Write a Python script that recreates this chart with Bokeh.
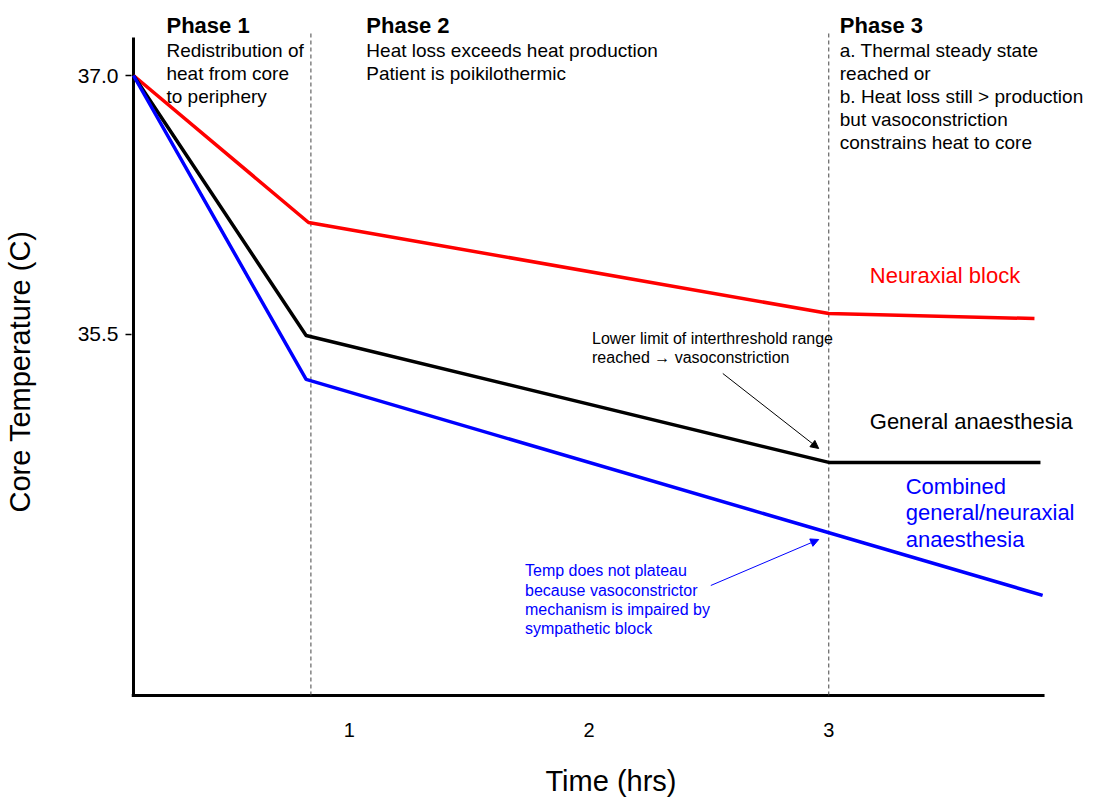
from bokeh.plotting import figure
from bokeh.models import Range1d, FixedTicker, PrintfTickFormatter, Label, Arrow, NormalHead
from bokeh.embed import file_html
from bokeh.resources import INLINE

FONT = "Liberation Sans"

# ---- data ----
time_neuraxial = [0.1, 0.83, 3.0, 3.858]
temp_neuraxial = [37.0, 36.148, 35.62, 35.591]
time_general = [0.1, 0.82, 3.0, 3.883]
temp_general = [37.0, 35.493, 34.757, 34.757]
time_combined = [0.1, 0.82, 3.892]
temp_combined = [37.0, 35.238, 33.986]
phase_bounds = [0.84, 3.0]
x_ticks = [1, 2, 3]
y_ticks = [35.5, 37.0]

# extents of the drawn axis lines
T0, T1 = 0.1, 3.9
Y0, Y1 = 33.4058, 37.2203
XR = (0.09167, 4.0917)
YR = (33.1333, 37.4348)

p = figure(width=1090, height=800, output_backend="svg", toolbar_location=None,
           x_range=Range1d(*XR), y_range=Range1d(*YR),
           min_border_left=130, min_border_right=0, min_border_top=0, min_border_bottom=58)
p.outline_line_color = None
p.xgrid.visible = False
p.ygrid.visible = False
p.background_fill_color = "white"
p.border_fill_color = "white"

# x axis: only carries the axis title; tick labels drawn below the axis line
p.xaxis.ticker = FixedTicker(ticks=[])
p.xaxis.axis_line_color = None
p.xaxis.major_tick_line_color = None
p.xaxis.minor_tick_line_color = None
p.xaxis.axis_label = "Time (hrs)"
p.xaxis.axis_label_text_font = FONT
p.xaxis.axis_label_text_font_size = "29px"
p.xaxis.axis_label_text_font_style = "normal"
p.xaxis.axis_label_text_color = "black"
p.xaxis.axis_label_standoff = 22

p.yaxis.ticker = FixedTicker(ticks=y_ticks)
p.yaxis.formatter = PrintfTickFormatter(format="%.1f")
p.yaxis.axis_line_color = None
p.yaxis.major_tick_line_color = "black"
p.yaxis.major_tick_line_width = 1.5
p.yaxis.major_tick_out = 6
p.yaxis.major_tick_in = 0
p.yaxis.minor_tick_line_color = None
p.yaxis.major_label_standoff = 7
p.yaxis.major_label_text_font = FONT
p.yaxis.major_label_text_font_size = "21px"
p.yaxis.major_label_text_color = "black"
p.yaxis.axis_label = "Core Temperature (C)"
p.yaxis.axis_label_text_font = FONT
p.yaxis.axis_label_text_font_size = "29px"
p.yaxis.axis_label_text_font_style = "normal"
p.yaxis.axis_label_text_color = "black"
p.yaxis.axis_label_standoff = 39

# axis lines
p.segment(x0=[T0, XR[0]], y0=[33.3971, Y0], x1=[T0, T1], y1=[Y1, Y0],
          line_color="black", line_width=3)

# x tick labels
for t in x_ticks:
    p.add_layout(Label(x=t, y=33.2029, text=str(t), text_font=FONT, text_font_size="20px",
                       text_color="black", text_align="center", text_baseline="middle"))

# phase boundaries
p.segment(x0=phase_bounds, y0=[Y0] * 2, x1=phase_bounds, y1=[37.2609] * 2,
          line_color="#444444", line_width=1, line_dash="4 3")

# series
p.line(time_neuraxial, temp_neuraxial, line_color="#ff0000", line_width=3.5)
p.line(time_general, temp_general, line_color="black", line_width=3.5)
p.line(time_combined, temp_combined, line_color="#0000ff", line_width=3.5)


def lab(x, y, text, size, color="black", bold=False, baseline="top", lh=1.2):
    p.add_layout(Label(x=x, y=y, text=text, text_font=FONT, text_font_size=size,
                       text_color=color, text_font_style="bold" if bold else "normal",
                       text_baseline=baseline, text_align="left", text_line_height=lh))


lab(0.2375, 37.2899, "Phase 1", "22px", bold=True, baseline="middle")
lab(0.2375, 37.2046, "Redistribution of\nheat from core\nto periphery", "19px", lh=1.09)
lab(1.0712, 37.2899, "Phase 2", "22px", bold=True, baseline="middle")
lab(1.0712, 37.2046, "Heat loss exceeds heat production\nPatient is poikilothermic", "19px", lh=1.09)
lab(3.046, 37.2899, "Phase 3", "22px", bold=True, baseline="middle")
lab(3.046, 37.2046, "a. Thermal steady state\nreached or\nb. Heat loss still > production\n"
    "but vasoconstriction\nconstrains heat to core", "19px", lh=1.09)

lab(3.171, 35.8406, "Neuraxial block", "22px", color="#ff0000", baseline="middle")
lab(3.171, 34.9942, "General anaesthesia", "22px", baseline="middle")
lab(3.321, 34.6904, "Combined\ngeneral/neuraxial\nanaesthesia", "22px", color="#0000ff", lh=1.06)

lab(2.0125, 35.5254, "Lower limit of interthreshold range\nreached \u2192 vasoconstriction", "16px", lh=1.13)
lab(1.733, 34.177, "Temp does not plateau\nbecause vasoconstrictor\nmechanism is impaired by\nsympathetic block",
    "16px", color="#0000ff", lh=1.13)

p.add_layout(Arrow(end=NormalHead(size=8, fill_color="black", line_color="black"),
                   x_start=2.558, y_start=35.2725, x_end=2.958, y_end=34.8377,
                   line_color="black", line_width=1))
p.add_layout(Arrow(end=NormalHead(size=8, fill_color="#0000ff", line_color="#0000ff"),
                   x_start=2.508, y_start=34.0435, x_end=2.958, y_end=34.3101,
                   line_color="#0000ff", line_width=1))

open("out.html", "w").write(file_html(p, INLINE))
